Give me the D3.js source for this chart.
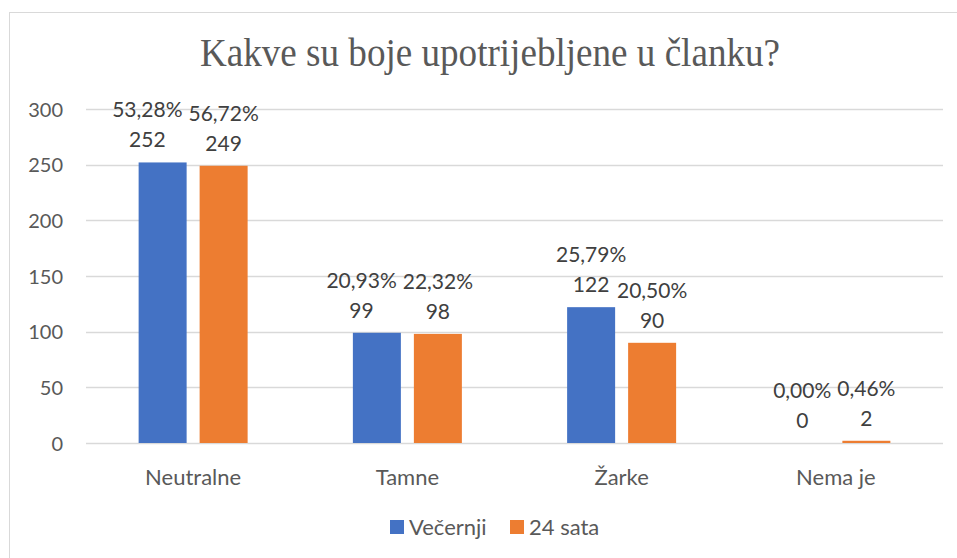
<!DOCTYPE html>
<html><head><meta charset="utf-8">
<script src="https://cdn.jsdelivr.net/npm/d3@7"></script>
<style>body{margin:0;background:#fff}svg{display:block}</style>
</head><body>
<script>
const categories = ["Neutralne", "Tamne", "Žarke", "Nema je"];
const seriesNames = ["Večernji", "24 sata"];
const vecernji = [252, 99, 122, 0];
const sata24 = [249, 98, 90, 2];
const vecernjiPct = ["53,28%", "20,93%", "25,79%", "0,00%"];
const sata24Pct = ["56,72%", "22,32%", "20,50%", "0,46%"];
const yTicks = [0, 50, 100, 150, 200, 250, 300];
const colors = ["#4472C4", "#ED7D31"];
const title = "Kakve su boje upotrijebljene u članku?";

(function () {
const W = 957, H = 558;
const svg = d3.select("body").append("svg").attr("width", W).attr("height", H);
svg.append("rect").attr("x", 9.5).attr("y", 12.5).attr("width", W).attr("height", H)
  .attr("fill", "#fff").attr("stroke", "#d9d9d9").attr("stroke-width", 1);

const pLeft = 86, pRight = 943, pTop = 109, pBottom = 443;
const x = d3.scaleBand().domain(categories).range([pLeft, pRight]);
const y = d3.scaleLinear().domain([0, 300]).range([pBottom, pTop]);
const font = "Lato, 'Open Sans', sans-serif";

svg.append("text").attr("x", 490).attr("y", 66)
  .attr("text-anchor", "middle").attr("font-family", "'Liberation Serif', 'Times New Roman', serif")
  .attr("font-size", 40).attr("textLength", 580).attr("lengthAdjust", "spacingAndGlyphs")
  .attr("fill", "#595959").text(title);

// gridlines
svg.append("g").selectAll("line").data(yTicks).join("line")
  .attr("x1", pLeft).attr("x2", pRight)
  .attr("y1", d => Math.round(y(d)) + 0.5).attr("y2", d => Math.round(y(d)) + 0.5)
  .attr("stroke", "#d9d9d9").attr("stroke-width", 1.3);

// y axis labels
const yAxis = d3.axisLeft(y).tickValues(yTicks).tickSize(0).tickPadding(0);
const ga = svg.append("g").attr("transform", `translate(${63},0)`).call(yAxis);
ga.select(".domain").remove();
ga.selectAll("text").attr("font-family", font).attr("font-size", 20).attr("fill", "#595959").attr("dy", "0.36em");

// x axis labels
const xAxis = d3.axisBottom(x).tickSize(0).tickPadding(0);
const gx = svg.append("g").attr("transform", `translate(0,${pBottom + 26})`).call(xAxis);
gx.select(".domain").remove();
gx.selectAll("text").attr("font-family", font).attr("font-size", 22).attr("fill", "#595959").attr("dy", "0.71em");

const bw = 48, gap = 13;
const series = [
  {name: seriesNames[0], vals: vecernji, pct: vecernjiPct, off: -gap / 2 - bw, color: colors[0]},
  {name: seriesNames[1], vals: sata24, pct: sata24Pct, off: gap / 2, color: colors[1]}
];
const labelGroups = [];
series.forEach(s => {
  const g = svg.append("g");
  const data = categories.map((c, i) => ({c, v: s.vals[i], p: s.pct[i]}));
  g.selectAll("rect").data(data).join("rect")
    .attr("x", d => x(d.c) + x.bandwidth() / 2 + s.off)
    .attr("y", d => y(d.v))
    .attr("width", bw)
    .attr("height", d => Math.max(0, y(0) - y(d.v)))
    .attr("fill", s.color);
  const lab = g.selectAll("g.lab").data(data).join("g").attr("class", "lab")
    .each(function (d) { d.cx = x(d.c) + x.bandwidth() / 2 + s.off + bw / 2; d.cy = y(d.v) - 15; })
    .attr("transform", d => `translate(${d.cx},${d.cy})`);
  lab.append("text").attr("text-anchor", "middle").attr("font-family", font).attr("font-size", 21)
    .attr("fill", "#404040").text(d => d.v);
  lab.append("text").attr("class", "pct").attr("text-anchor", "middle").attr("font-family", font).attr("font-size", 21)
    .attr("y", -30).attr("fill", "#404040").text(d => d.p);
  labelGroups.push(lab);
});

// shift first-series labels left when they collide with second-series labels
const blueNodes = labelGroups[0].nodes(), orangeNodes = labelGroups[1].nodes();
blueNodes.forEach((bn, i) => {
  const on = orangeNodes[i];
  const bd = d3.select(bn).datum(), od = d3.select(on).datum();
  if (Math.abs(bd.cy - od.cy) > 26) return;
  const bw1 = d3.select(bn).select(".pct").node().getComputedTextLength();
  const ow1 = d3.select(on).select(".pct").node().getComputedTextLength();
  const overlap = (bd.cx + bw1 / 2 + 6) - (od.cx - ow1 / 2);
  if (overlap > 0) {
    bd.cx -= overlap;
    d3.select(bn).attr("transform", `translate(${bd.cx},${bd.cy})`);
  }
});

// legend
const leg = svg.append("g");
const legX = [390, 510];
seriesNames.forEach((n, i) => {
  leg.append("rect").attr("x", legX[i]).attr("y", 520).attr("width", 14).attr("height", 14).attr("fill", colors[i]);
  leg.append("text").attr("x", legX[i] + 19).attr("y", 527).attr("dy", "0.36em")
    .attr("font-family", font).attr("font-size", 22).attr("fill", "#595959").text(n);
});
})();
</script>
</body></html>
